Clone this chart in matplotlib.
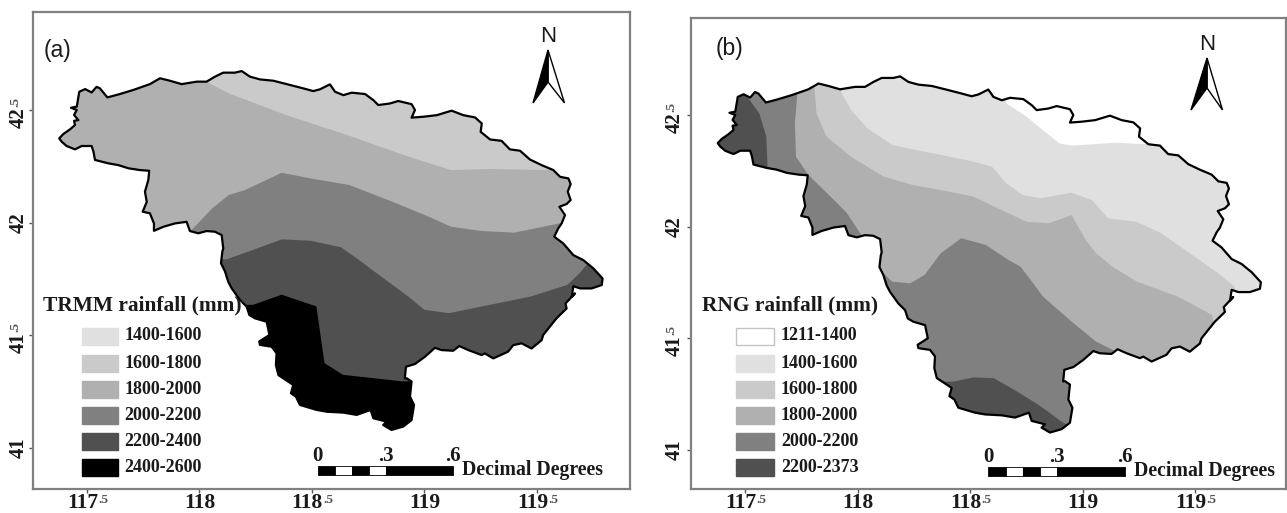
import matplotlib
matplotlib.use("Agg")
import matplotlib.pyplot as plt
from matplotlib.patches import Polygon, Rectangle

# basin outline, lon / lat
outline_lon = [117.377,117.395,117.425,117.447,117.443,117.462,117.443,117.455,117.429,117.455,117.466,117.492,117.521,117.543,117.558,117.591,117.64,117.706,117.78,117.825,117.869,117.921,117.988,118.032,118.069,118.106,118.158,118.188,118.225,118.269,118.329,118.388,118.462,118.506,118.536,118.58,118.603,118.64,118.677,118.736,118.773,118.795,118.847,118.884,118.943,118.958,118.943,118.995,119.055,119.121,119.173,119.225,119.255,119.25,119.292,119.343,119.38,119.425,119.469,119.521,119.573,119.603,119.64,119.65,119.637,119.65,119.632,119.6,119.625,119.61,119.595,119.577,119.617,119.662,119.706,119.751,119.792,119.788,119.743,119.692,119.662,119.655,119.669,119.627,119.632,119.587,119.528,119.521,119.476,119.432,119.395,119.372,119.306,119.269,119.254,119.195,119.155,119.128,119.076,119.047,119.002,118.958,118.918,118.913,118.921,118.943,118.936,118.954,118.943,118.906,118.854,118.817,118.832,118.773,118.761,118.699,118.64,118.566,118.521,118.447,118.429,118.407,118.417,118.351,118.34,118.343,118.321,118.269,118.266,118.311,118.299,118.247,118.222,118.21,118.18,118.143,118.128,118.114,118.096,118.102,118.106,118.099,118.069,118.032,117.995,117.958,117.943,117.892,117.84,117.798,117.798,117.78,117.748,117.766,117.758,117.773,117.777,117.736,117.684,117.64,117.595,117.536,117.529,117.521,117.477,117.447,117.41,117.388]
outline_lat = [42.374,42.393,42.414,42.433,42.452,42.455,42.478,42.5,42.51,42.515,42.581,42.593,42.578,42.603,42.596,42.556,42.569,42.589,42.615,42.641,42.63,42.615,42.626,42.626,42.648,42.666,42.666,42.673,42.648,42.636,42.63,42.615,42.596,42.584,42.592,42.614,42.581,42.566,42.577,42.571,42.544,42.522,42.529,42.54,42.526,42.5,42.466,42.47,42.477,42.497,42.477,42.467,42.44,42.403,42.369,42.363,42.325,42.319,42.28,42.255,42.233,42.203,42.196,42.171,42.137,42.1,42.082,42.07,42.033,41.996,41.974,41.937,41.907,41.855,41.833,41.796,41.751,41.722,41.707,41.707,41.717,41.67,41.685,41.64,41.618,41.574,41.5,41.477,41.44,41.463,41.455,41.426,41.396,41.418,41.411,41.433,41.451,41.43,41.433,41.443,41.403,41.371,41.359,41.307,41.308,41.293,41.226,41.189,41.122,41.093,41.078,41.1,41.115,41.13,41.167,41.145,41.155,41.159,41.167,41.189,41.226,41.241,41.278,41.322,41.367,41.419,41.448,41.456,41.471,41.5,41.559,41.574,41.589,41.626,41.656,41.708,41.737,41.782,41.819,41.871,41.885,41.944,41.959,41.962,41.952,41.962,42.003,41.996,41.981,41.963,41.996,42.041,42.048,42.092,42.137,42.189,42.23,42.233,42.241,42.255,42.263,42.278,42.315,42.34,42.34,42.325,42.34,42.359]

# TRMM zones, drawn light to dark over the 1800-2000 base
trmm_zones = [
    ('#cacaca', [(118.03,42.626),(118.13,42.574),(118.384,42.478),(118.656,42.389),(118.928,42.293),(119.119,42.233),(119.291,42.238),(119.527,42.233),(119.9,42.233),(119.9,42.9),(118.03,42.9)]),
    ('#808080', [(117.966,41.967),(118.057,42.063),(118.13,42.122),(118.202,42.144),(118.366,42.221),(118.493,42.196),(118.665,42.167),(118.838,42.10),(119.019,42.026),(119.119,41.981),(119.255,41.962),(119.40,41.955),(119.60,41.996),(119.95,41.996),(119.95,40.9),(117.9,40.9),(117.9,41.967)]),
    ('#505050', [(118.12,41.836),(118.238,41.878),(118.366,41.925),(118.493,41.919),(118.629,41.89),(118.71,41.833),(118.747,41.805),(118.928,41.671),(119.0,41.612),(119.109,41.597),(119.291,41.634),(119.473,41.671),(119.636,41.723),(119.69,41.775),(119.736,41.83),(119.95,41.83),(119.95,40.9),(117.9,40.9),(117.9,41.836)]),
    ('#000000', [(118.238,41.634),(118.366,41.679),(118.52,41.627),(118.556,41.375),(118.638,41.323),(118.901,41.294),(118.937,41.294),(119.2,41.294),(119.2,40.9),(117.9,40.9),(117.9,41.634)]),
]

# RNG zones over the 1400-1600 base
rng_zones = [
    ('#ffffff', [(118.66,42.552),(118.75,42.493),(118.832,42.425),(118.896,42.373),(118.95,42.363),(119.059,42.37),(119.15,42.376),(119.259,42.37),(119.33,42.37),(119.33,42.9),(118.66,42.9)]),
    ('#cacaca', [(117.925,42.604),(117.97,42.522),(118.043,42.44),(118.152,42.366),(118.26,42.343),(118.369,42.321),(118.515,42.291),(118.596,42.269),(118.66,42.194),(118.732,42.142),(118.814,42.127),(118.95,42.152),(119.041,42.119),(119.113,42.037),(119.24,42.022),(119.349,41.97),(119.476,41.881),(119.603,41.791),(119.676,41.731),(119.7,41.6),(119.7,40.9),(117.2,40.9),(117.2,42.9),(117.925,42.9)]),
    ('#b0b0b0', [(117.807,42.619),(117.816,42.507),(117.861,42.403),(117.97,42.313),(118.115,42.224),(118.242,42.187),(118.369,42.164),(118.515,42.134),(118.623,42.082),(118.75,42.022),(118.85,42.015),(118.95,42.052),(119.014,41.94),(119.059,41.881),(119.132,41.821),(119.24,41.754),(119.422,41.687),(119.576,41.604),(119.6,41.4),(119.6,40.9),(117.2,40.9),(117.2,42.9),(117.807,42.9)]),
    ('#808080', [(117.73,42.582),(117.72,42.463),(117.725,42.313),(117.78,42.231),(117.879,42.134),(117.952,42.06),(118.015,41.963),(117.9,41.9),(117.2,41.9),(117.2,42.9),(117.73,42.9)]),
    ('#808080', [(118.115,41.791),(118.152,41.754),(118.233,41.746),(118.297,41.784),(118.369,41.881),(118.46,41.948),(118.569,41.918),(118.669,41.851),(118.723,41.821),(118.769,41.761),(118.823,41.687),(118.95,41.575),(119.059,41.485),(119.15,41.44),(119.15,40.9),(118.0,40.9),(118.0,41.791)]),
    ('#505050', [(117.513,42.575),(117.562,42.507),(117.593,42.403),(117.598,42.276),(117.598,42.2),(117.2,42.2),(117.2,42.9),(117.513,42.9)]),
    ('#505050', [(118.424,41.306),(118.515,41.325),(118.605,41.321),(118.696,41.269),(118.805,41.201),(118.896,41.134),(118.95,41.1),(118.95,40.9),(118.2,40.9),(118.2,41.306)]),
]

x_ticks = [117.5, 118, 118.5, 119, 119.5]
y_ticks = [41, 41.5, 42, 42.5]
x_labels = ['117', '118', '118', '119', '119']
y_labels = ['41', '41', '42', '42']

trmm_labels = ['1400-1600','1600-1800','1800-2000','2000-2200','2200-2400','2400-2600']
trmm_legend = ['#e0e0e0','#cacaca','#b0b0b0','#808080','#505050','#000000']
rng_labels = ['1211-1400','1400-1600','1600-1800','1800-2000','2000-2200','2200-2373']
rng_legend = ['#ffffff','#e0e0e0','#cacaca','#b0b0b0','#808080','#505050']
legend_rows = [336, 363, 389, 415, 441, 467]

W, H = 1287, 513
fig = plt.figure(figsize=(W/100, H/100), dpi=100)
serif = dict(family='Liberation Serif', weight='bold', color='#1a1a1a')


def make_map(left, right, top, bottom, x0, y0, xscale, yscale, base, zones, ylab_off):
    ax = fig.add_axes([left/W, 1-bottom/H, (right-left)/W, (bottom-top)/H])
    ax.set_xlim(117.5+(left-x0)/xscale, 117.5+(right-x0)/xscale)
    ax.set_ylim(42.5-(bottom-y0)/yscale, 42.5-(top-y0)/yscale)
    pts = list(zip(outline_lon, outline_lat))
    shape = Polygon(pts, closed=True, fc=base, ec='none', zorder=1)
    ax.add_patch(shape)
    for color, zone in zones:
        p = Polygon(zone, closed=True, fc=color, ec='none', zorder=2)
        ax.add_patch(p)
        p.set_clip_path(shape)
    ax.add_patch(Polygon(pts, closed=True, fc='none', ec='black', lw=1.6, joinstyle='round', zorder=3))
    ax.set_xticks(x_ticks)
    ax.set_yticks(y_ticks)
    ax.set_xticklabels([])
    ax.set_yticklabels([])
    ax.tick_params(length=3, width=1, color='#555555')
    for s in ax.spines.values():
        s.set_color('#808080')
        s.set_linewidth(1.6)

    # labels like 117.5 have the .5 small and raised, so two texts each
    xt = ax.get_xaxis_transform()
    for tick, lab in zip(x_ticks, x_labels):
        half = tick != int(tick)
        ax.annotate(lab, (tick, 0), xycoords=xt, xytext=(11 if half else 0, -14), textcoords='offset pixels',
                    fontsize=15.5, ha='right' if half else 'center', va='center', **serif)
        if half:
            ax.annotate('.5', (tick, 0), xycoords=xt, xytext=(11, -5), textcoords='offset pixels',
                        fontsize=9.5, ha='left', va='top', family='Liberation Serif', weight='bold', color='#555555')
    yt = ax.get_yaxis_transform()
    for tick, lab in zip(y_ticks, y_labels):
        half = tick != int(tick)
        ax.annotate(lab, (0, tick), xycoords=yt, xytext=(ylab_off-1, 3 if half else 0), textcoords='offset pixels',
                    fontsize=15, rotation=90, ha='center', va='top' if half else 'center', **serif)
        if half:
            ax.annotate('.5', (0, tick), xycoords=yt, xytext=(ylab_off-11, 3), textcoords='offset pixels',
                        fontsize=9.5, rotation=90, ha='left', va='bottom', family='Liberation Serif', weight='bold', color='#555555')
    return ax


make_map(33, 630, 12, 489, 86.9, 110, 225, 225, '#b0b0b0', trmm_zones, -13)
make_map(691, 1286, 18, 489, 745.4, 115, 224.9, 223.3, '#e0e0e0', rng_zones, -15)

# overlay in pixels for legend, scale bar, north arrow
ov = fig.add_axes([0, 0, 1, 1])
ov.set_xlim(0, W)
ov.set_ylim(H, 0)
ov.axis('off')
ov.patch.set_alpha(0)


def legend(title, tx, labels, colors, box_x, box_w, text_x):
    ov.text(tx, 305, title, fontsize=15.4, va='center', **serif)
    for y, lab, col in zip(legend_rows, labels, colors):
        edge = '#c4c4c4' if col == '#ffffff' else col
        ov.add_patch(Rectangle((box_x, y-8.5), box_w, 17, fc=col, ec=edge, lw=1))
        ov.text(text_x, y, lab, fontsize=13, va='center', **serif)


def scale(edges, y, dd_x):
    for i in range(len(edges)-1):
        ov.add_patch(Rectangle((edges[i], y), edges[i+1]-edges[i], 9,
                               fc='white' if i % 2 else 'black', ec='black', lw=0.6))
    for x, s in zip([edges[0], edges[4], edges[5]], ['0', '.3', '.6']):
        ov.text(x, y-10, s, fontsize=15, ha='center', va='center', **serif)
    ov.text(dd_x, y+4, 'Decimal Degrees', fontsize=14.2, va='center', **serif)


def north(tip_x, tip_y, left_x, right_x, base_y, notch_y):
    ov.add_patch(Polygon([(tip_x, tip_y), (right_x, base_y), (tip_x, notch_y)], fc='white', ec='black', lw=1))
    ov.add_patch(Polygon([(tip_x, tip_y), (left_x, base_y), (tip_x, notch_y)], fc='black', ec='black', lw=1))
    ov.text(tip_x, tip_y-13, 'N', fontsize=16, family='Liberation Sans', ha='center', va='center', color='#1a1a1a')


legend('TRMM rainfall (mm)', 43, trmm_labels, trmm_legend, 82, 36, 124.5)
legend('RNG rainfall (mm)', 702, rng_labels, rng_legend, 736, 37.5, 781)
scale([317.5, 334.7, 351.8, 368.6, 385.7, 453], 466, 462)
scale([988, 1006, 1022.5, 1039.5, 1056.5, 1124.5], 467, 1134)
north(548, 50, 533, 564.5, 103, 82)
north(1207, 58, 1191, 1222.5, 110, 88)
ov.text(44, 50, '(a)', fontsize=16.5, family='Liberation Sans', va='center', color='#1a1a1a')
ov.text(716, 49, '(b)', fontsize=16.5, family='Liberation Sans', va='center', color='#1a1a1a')

fig.savefig('out.png', dpi=100)
